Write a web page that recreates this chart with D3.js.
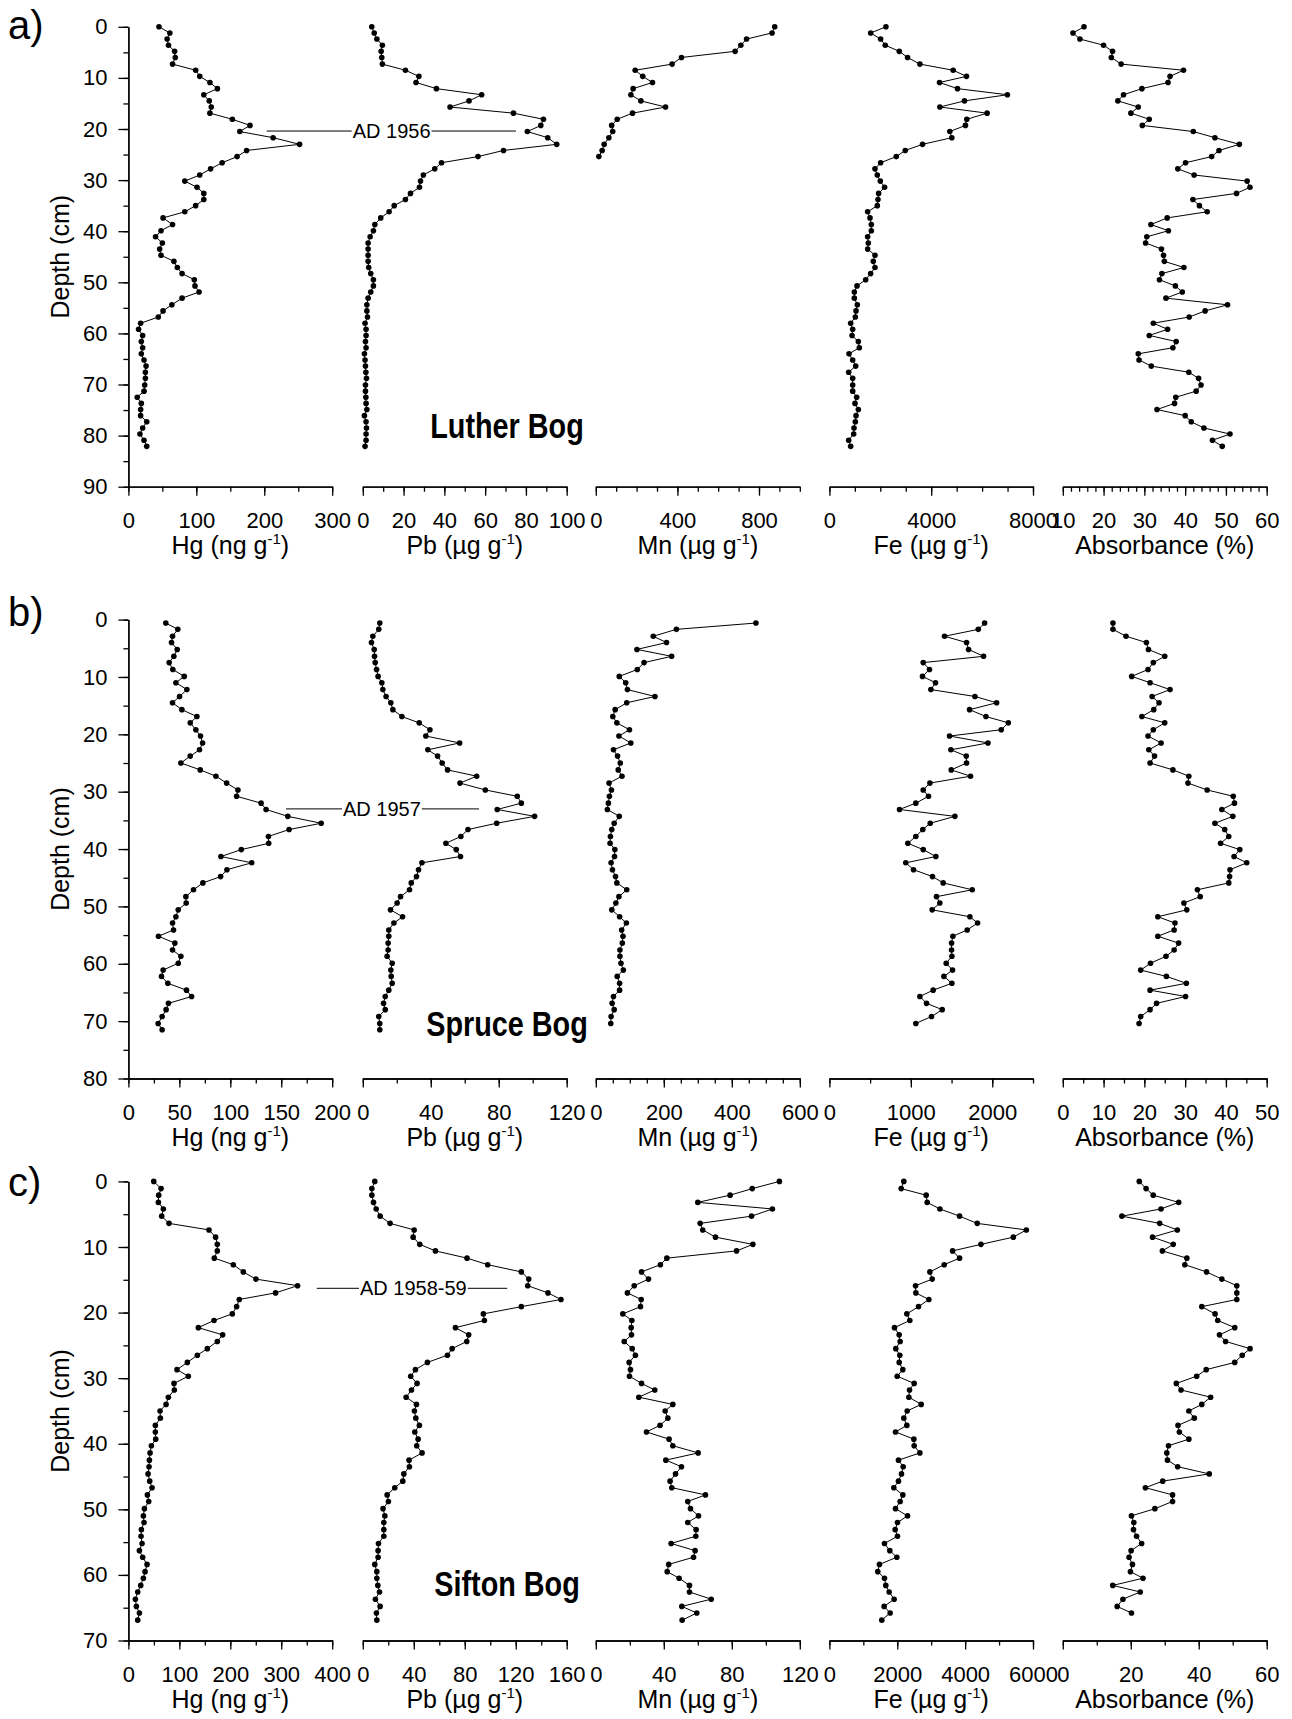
<!DOCTYPE html>
<html><head><meta charset="utf-8">
<script src="https://cdn.jsdelivr.net/npm/d3@7"></script>
<style>
body{margin:0;background:#fff}
svg{display:block;background:#fff}
text{font-family:"Liberation Sans",Arial,Helvetica,sans-serif;fill:#000}
.tick text{font-size:22px}
.domain,.tick line{stroke:#000;stroke-width:1.3px}
</style>
</head><body>
<svg id="chart" width="1292" height="1719"></svg>
<script>
// ---------- Luther Bog (a) ----------
const lutherDepth=[0,1.2,2.4,3.6,4.8,6.0,7.3,8.5,9.7,10.9,12.1,13.3,14.5,15.7,16.9,18.1,19.3,20.5,21.7,23.0,24.2,25.4,26.6,27.8,29.0,30.2,31.4,32.6,33.8,35.0,36.2,37.4,38.7,39.9,41.1,42.3,43.5,44.7,45.9,47.1,48.3,49.5,50.7,51.9,53.1,54.4,55.6,56.8,58.0,59.2,60.4,61.6,62.8,64.0,65.2,66.4,67.6,68.8,70.1,71.3,72.5,73.7,74.9,76.1,77.3,78.5,79.7,80.9,82.1];
const lutherHg=[45,61,57,59,68,69,65,99,105,120,131,111,119,122,120,153,179,164,213,252,174,160,138,121,105,83,101,111,111,99,83,51,65,48,40,50,46,48,67,72,79,97,98,104,79,64,51,44,18,15,21,19,21,19,23,26,25,25,24,23,13,19,18,18,27,21,17,23,27];
const lutherPb=[4.4,5.6,6.9,9.6,9.0,9.3,9.6,20.9,27.5,26.1,36.1,58.3,52.1,42.8,73.9,88.6,87.3,80.7,90.7,95.1,69.0,56.5,38.6,35.3,29.7,28.3,27.8,23.4,20.9,15.4,12.9,8.8,5.9,5.2,3.6,2.6,2.6,2.6,2.6,2.9,3.9,5.2,5.2,3.9,2.6,2.0,2.0,2.3,1.1,1.6,1.6,1.3,1.6,0.8,1.1,1.3,1.5,1.8,1.3,1.3,1.5,1.6,2.0,0.8,1.6,1.8,1.6,1.6,1.1];
const lutherMn=[877,864,739,711,683,420,374,193,230,278,183,172,221,342,180,105,78,83,64,41,31,15];
const lutherFe=[2222,1621,2013,2196,2745,3072,3556,4863,5386,4327,5033,6994,5307,4340,6196,5399,5346,4732,4810,3660,2980,2627,2013,1791,1882,2000,2170,1934,1908,1882,1503,1595,1647,1647,1503,1529,1503,1791,1725,1791,1621,1425,1085,980,980,1098,1046,1019,836,915,889,1137,1176,771,915,1033,758,915,915,915,1072,1006,1137,1046,1019,967,954,758,836];
const lutherAbs=[15.2,12.5,14.2,20.0,22.2,21.9,24.3,39.6,36.3,35.8,29.4,24.9,23.5,28.5,26.7,31.2,29.5,42.0,47.3,53.3,48.3,46.5,40.1,38.2,42.2,55.2,55.9,52.6,41.9,43.5,45.4,35.6,31.6,35.9,30.6,30.3,34.2,34.7,34.9,39.7,34.3,33.7,37.6,39.3,35.3,50.4,44.9,41.0,32.2,35.7,31.2,37.8,37.0,28.5,28.7,31.7,40.9,43.3,43.9,42.7,37.7,37.4,33.1,40.0,41.5,44.6,51.0,46.7,49.1];
const lutherDomains=[[0,300],[0,100],[0,1000],[0,8000],[10,60]];
const lutherTickSteps=[50,10,100,1000,2];
const lutherTickLabels=[[0,100,200,300],[0,20,40,60,80,100],[0,400,800],[0,4000,8000],[10,20,30,40,50,60]];
const lutherDepthTicks=[0,10,20,30,40,50,60,70,80,90];

// ---------- Spruce Bog (b) ----------
const spruceDepth=[0.6,1.7,2.9,4.0,5.2,6.4,7.5,8.7,9.9,11.0,12.2,13.4,14.5,15.7,16.9,18.0,19.2,20.3,21.5,22.7,23.8,25.0,26.2,27.3,28.5,29.7,30.8,32.0,33.1,34.3,35.5,36.6,37.8,39.0,40.1,41.3,42.4,43.6,44.8,45.9,47.1,48.3,49.4,50.6,51.8,52.9,54.1,55.2,56.4,57.6,58.7,59.9,61.1,62.2,63.4,64.6,65.7,66.9,68.0,69.2,70.4,71.5];
const spruceHg=[36.7,48.5,43.3,42.3,47.9,44.6,40.0,43.6,54.8,46.6,57.4,50.2,43.3,52.5,67.2,60.7,66.2,70.8,72.8,69.8,60.7,51.5,70.5,85.9,96.4,107.5,106.2,130.2,135.1,156.4,189.2,157.7,137.4,137.7,110.8,90.8,121.0,96.7,90.5,73.1,63.9,56.4,56.7,48.9,46.6,43.3,44.3,29.5,45.6,43.3,51.5,48.9,34.1,32.5,38.7,57.0,62.0,39.3,37.0,33.1,29.2,33.1];
const sprucePb=[10.0,9.4,5.9,5.1,6.7,6.9,7.3,8.1,9.0,11.2,11.8,13.7,16.5,17.7,23.0,33.2,39.5,37.1,57.0,38.3,44.0,46.7,49.9,67.0,57.2,72.1,90.9,93.3,79.1,101.1,78.8,61.9,57.7,48.9,55.0,57.5,34.8,32.8,31.6,28.5,27.5,22.2,20.2,16.3,23.4,18.3,15.3,15.3,14.9,14.9,14.3,17.3,16.5,16.7,17.3,15.3,13.2,12.2,13.2,9.4,10.0,10.0];
const spruceMn=[471,237,169,208,121,223,142,122,69,88,93,174,91,57,50,62,99,68,103,52,64,72,66,77,39,46,40,37,34,69,54,47,43,42,56,55,45,49,58,62,91,68,59,47,70,90,76,80,78,71,71,74,81,63,70,70,52,48,54,45,44];
const spruceFe=[1906,1828,1414,1684,1709,1893,1152,1229,1143,1303,1246,1787,2053,1721,1922,2197,2110,1475,1947,1492,1680,1684,1496,1733,1234,1152,1217,1061,861,1541,1238,1147,1061,963,1152,1307,938,1033,1266,1397,1754,1315,1356,1262,1725,1820,1692,1516,1500,1500,1504,1434,1512,1406,1504,1274,1111,1193,1385,1254,1061];
const spruceAbs=[12.3,12.3,15.5,20.5,21.0,25.0,22.2,20.9,16.9,21.4,26.3,21.9,23.6,22.3,19.4,25.0,22.2,20.9,24.1,21.1,22.5,21.4,27.0,30.9,30.7,35.4,41.8,42.1,39.0,41.7,37.3,39.7,40.7,38.7,43.4,42.0,45.1,41.0,40.9,40.7,33.0,33.7,29.7,30.4,23.3,27.5,27.3,23.3,28.4,27.3,25.3,21.5,19.1,25.4,30.3,21.4,30.1,23.0,21.4,19.1,18.7];
const spruceDomains=[[0,200],[0,120],[0,600],[0,2500],[0,50]];
const spruceTickSteps=[25,20,50,500,5];
const spruceTickLabels=[[0,50,100,150,200],[0,40,80,120],[0,200,400,600],[0,1000,2000],[0,10,20,30,40,50]];
const spruceDepthTicks=[0,10,20,30,40,50,60,70,80];

// ---------- Sifton Bog (c) ----------
const siftonDepth=[0.0,1.1,2.1,3.2,4.2,5.3,6.4,7.4,8.5,9.6,10.6,11.7,12.7,13.8,14.9,15.9,17.0,18.0,19.1,20.2,21.2,22.3,23.4,24.4,25.5,26.5,27.6,28.7,29.7,30.8,31.8,32.9,34.0,35.0,36.1,37.2,38.2,39.3,40.3,41.4,42.5,43.5,44.6,45.7,46.7,47.8,48.8,49.9,51.0,52.0,53.1,54.1,55.2,56.3,57.3,58.4,59.5,60.5,61.6,62.6,63.7,64.8,65.8,66.9];
const siftonHg=[49.7,64.1,59.5,58.8,68.6,65.4,79.7,158.2,171.2,174.5,174.5,168.6,205.9,225.5,250.3,332.0,288.9,217.6,212.4,203.9,168.0,137.3,185.0,174.5,154.9,135.3,115.7,95.4,117.6,89.5,90.2,78.4,73.9,62.1,62.7,52.9,52.9,53.6,45.1,42.5,41.2,40.5,38.6,41.8,46.4,37.3,39.9,31.4,29.4,30.7,25.5,24.8,26.8,21.6,28.1,36.6,32.7,29.4,24.2,18.3,13.7,15.7,21.6,18.3];
const siftonPb=[9.4,7.1,7.1,8.4,10.5,13.6,21.4,40.3,39.5,44.7,57.0,81.8,98.0,124.4,130.2,129.4,145.3,155.5,124.4,94.6,95.4,72.7,83.1,81.6,70.1,66.4,50.7,41.3,37.6,42.6,38.2,34.0,42.1,40.5,41.6,44.4,40.8,43.4,42.3,46.5,36.3,36.6,32.2,31.4,25.1,19.1,20.1,15.9,17.3,16.5,16.5,16.5,12.3,12.0,12.0,9.4,11.0,11.0,11.8,13.1,9.9,13.6,10.7,11.0];
const siftonMn=[108.0,92.0,79.0,60.0,103.9,91.6,61.4,62.9,70.4,92.4,82.8,41.8,38.0,26.9,31.0,22.6,18.6,26.7,26.3,15.9,21.2,20.8,21.0,16.7,21.4,23.3,19.6,20.4,19.8,26.9,34.7,25.3,45.3,40.8,42.4,37.8,29.8,43.1,45.3,60.2,41.2,50.4,46.9,43.7,44.7,64.5,54.1,55.7,60.4,54.1,59.0,58.8,44.3,58.4,57.5,42.9,42.0,49.0,55.1,55.1,67.9,50.6,59.4,50.8];
const siftonFe=[2193,2115,2852,2882,3256,3836,4357,5803,5420,4466,3630,3836,3384,2961,3030,2538,2548,2931,2626,2282,2370,1918,2056,2085,1957,2075,2056,2164,1997,2498,2361,2341,2705,2292,2193,2282,1948,2489,2498,2666,2036,2174,2125,2036,1898,2164,2085,1948,2302,2007,1938,2007,1623,1780,1987,1475,1426,1623,1662,1761,1908,1613,1790,1544];
const siftonAbs=[22.5,24.5,26.6,34.1,28.9,17.4,28.5,33.7,26.4,32.5,29.3,36.5,35.9,42.3,46.8,51.2,51.2,51.2,40.9,44.8,45.6,50.6,46.1,47.9,55.1,52.8,50.6,42.2,39.4,33.4,34.8,43.5,40.9,37.1,38.7,33.9,34.3,37.1,31.1,30.6,30.8,33.8,43.1,29.4,24.3,32.3,32.3,27.1,20.2,20.9,20.8,21.7,23.2,20.1,19.5,20.5,19.9,23.6,14.7,22.8,17.7,16.0,20.2];
const siftonDomains=[[0,400],[0,160],[0,120],[0,6000],[0,60]];
const siftonTickSteps=[50,20,20,1000,10];
const siftonTickLabels=[[0,100,200,300,400],[0,40,80,120,160],[0,40,80,120],[0,2000,4000,6000],[0,20,40,60]];
const siftonDepthTicks=[0,10,20,30,40,50,60,70];

const elementNames=["Hg","Pb","Mn","Fe","Absorbance"];
const elementUnits=["ng g","µg g","µg g","µg g",null];

// ---------- layout ----------
const svg=d3.select("#chart");
const colX=[[128.4,332.2],[362.8,566.7],[595.8,799.8],[829.4,1033],[1062.8,1266.7]];
const rows=[
 {letter:"a)",letterY:38.5,top:26.8,bottom:486.7,maxDepth:90,depth:lutherDepth,
  series:[lutherHg,lutherPb,lutherMn,lutherFe,lutherAbs],domains:lutherDomains,steps:lutherTickSteps,
  labels:lutherTickLabels,depthTicks:lutherDepthTicks,bog:"Luther Bog",bogY:437.5,
  ad:"AD 1956",adDepth:20.4,adX:[266.7,352.7,516]},
 {letter:"b)",letterY:626,top:619.6,bottom:1078.5,maxDepth:80,depth:spruceDepth,
  series:[spruceHg,sprucePb,spruceMn,spruceFe,spruceAbs],domains:spruceDomains,steps:spruceTickSteps,
  labels:spruceTickLabels,depthTicks:spruceDepthTicks,bog:"Spruce Bog",bogY:1035.5,
  ad:"AD 1957",adDepth:33.0,adX:[286,343,479]},
 {letter:"c)",letterY:1196,top:1181.4,bottom:1640.5,maxDepth:70,depth:siftonDepth,
  series:[siftonHg,siftonPb,siftonMn,siftonFe,siftonAbs],domains:siftonDomains,steps:siftonTickSteps,
  labels:siftonTickLabels,depthTicks:siftonDepthTicks,bog:"Sifton Bog",bogY:1595.7,
  ad:"AD 1958-59",adDepth:16.3,adX:[316.7,360,507.3]}
];

function cleanAxis(sel){sel.attr("font-size",null).attr("font-family",null);}

rows.forEach(r=>{
  const g=svg.append("g");
  const y=d3.scaleLinear().domain([0,r.maxDepth]).range([r.top,r.bottom]);

  // depth axis
  const gy=g.append("g").attr("transform",`translate(${colX[0][0]},0)`);
  gy.call(d3.axisLeft(y).tickValues(d3.range(0,r.maxDepth+0.001,5)).tickSize(5).tickSizeOuter(0).tickFormat(""));
  cleanAxis(gy);
  const gy2=gy.append("g");
  gy2.call(d3.axisLeft(y).tickValues(r.depthTicks).tickSize(10).tickSizeOuter(0).tickPadding(11).tickFormat(d3.format("d")));
  cleanAxis(gy2);

  g.append("text").attr("transform",`translate(68.5,${(r.top+r.bottom)/2}) rotate(-90)`)
    .attr("text-anchor","middle").attr("font-size",25).text("Depth (cm)");

  g.append("text").attr("x",8).attr("y",r.letterY).attr("font-size",40).text(r.letter);

  r.series.forEach((vals,j)=>{
    const dom=r.domains[j];
    const x=d3.scaleLinear().domain(dom).range(colX[j]);
    const gx=g.append("g").attr("transform",`translate(0,${r.bottom})`);
    gx.call(d3.axisBottom(x).tickValues(d3.range(dom[0],dom[1]+1e-6,r.steps[j])).tickSize(5).tickSizeOuter(0).tickFormat(""));
    cleanAxis(gx);
    const gx2=gx.append("g");
    gx2.call(d3.axisBottom(x).tickValues(r.labels[j]).tickSize(9).tickSizeOuter(0).tickFormat(d3.format("d")));
    cleanAxis(gx2);
    gx2.selectAll("text").attr("y",41).attr("dy",null);

    // title
    const cx=(colX[j][0]+colX[j][1])/2;
    const t=g.append("text").attr("x",cx).attr("y",r.bottom+67).attr("text-anchor","middle").attr("font-size",25);
    if(elementUnits[j]){
      t.append("tspan").text(`${elementNames[j]} (${elementUnits[j]}`);
      t.append("tspan").attr("font-size",15).attr("dy",-10).text("-1");
      t.append("tspan").attr("dy",10).text(")");
    } else {
      t.text("Absorbance (%)");
    }

    const pts=vals.map((v,i)=>({v:v,d:r.depth[i]}));
    g.append("path").datum(pts)
      .attr("d",d3.line().x(p=>x(p.v)).y(p=>y(p.d)))
      .attr("fill","none").attr("stroke","#000").attr("stroke-width",1);
    g.append("g").selectAll("circle").data(pts).join("circle")
      .attr("cx",p=>x(p.v)).attr("cy",p=>y(p.d)).attr("r",2.8).attr("fill","#000");
  });

  // annotation
  const ay=y(r.adDepth);
  const at=g.append("text").attr("x",r.adX[1]).attr("y",ay).attr("dy","0.35em").attr("font-size",20).text(r.ad);
  const tw=at.node().getComputedTextLength();
  g.append("line").attr("x1",r.adX[0]).attr("x2",r.adX[1]-1).attr("y1",ay).attr("y2",ay).attr("stroke","#000").attr("stroke-width",1);
  g.append("line").attr("x1",r.adX[1]+tw+1).attr("x2",r.adX[2]).attr("y1",ay).attr("y2",ay).attr("stroke","#000").attr("stroke-width",1);

  // bog name
  g.append("text").attr("transform",`translate(507,${r.bogY}) scale(0.8,1)`)
    .attr("text-anchor","middle").attr("font-size",36).attr("font-weight","bold").text(r.bog);
});
</script>
</body></html>
